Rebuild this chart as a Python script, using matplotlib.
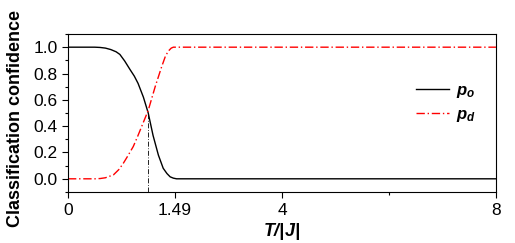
import matplotlib
matplotlib.use("Agg")
import matplotlib.pyplot as plt
from matplotlib.ticker import MultipleLocator, FixedLocator

plt.rcParams['font.family'] = ['Liberation Sans', 'DejaVu Sans']
plt.rcParams['mathtext.fontset'] = 'custom'
plt.rcParams['mathtext.rm'] = 'Liberation Sans'
plt.rcParams['mathtext.bf'] = 'Liberation Sans:bold'
plt.rcParams['mathtext.bfit'] = 'Liberation Sans:italic:bold'
plt.rcParams['mathtext.it'] = 'Liberation Sans:italic'

# p_o (ordered phase) confidence
T_o = [0, 0.3, 0.5, 0.6, 0.7, 0.8, 0.9, 0.97, 1.06, 1.16, 1.24, 1.31, 1.41,
       1.5, 1.59, 1.69, 1.78, 1.85, 1.91, 1.97, 2.03, 2.3, 3.0, 8.0]
p_o = [1.0, 1.0, 1.0, 0.998, 0.993, 0.982, 0.965, 0.945, 0.895, 0.83,
       0.78, 0.725, 0.62, 0.5, 0.33, 0.18, 0.08, 0.04, 0.015, 0.005, 0.0,
       0.0, 0.0, 0.0]

# p_d (disordered phase) confidence
T_d = [0, 0.5, 0.6, 0.7, 0.85, 0.95, 1.03, 1.12, 1.22, 1.3, 1.38, 1.5,
       1.63, 1.75, 1.82, 1.875, 1.93, 1.97, 2.2, 8.0]
p_d = [0.0, 0.0, 0.002, 0.008, 0.03, 0.07, 0.115, 0.175, 0.245, 0.32,
       0.40, 0.52, 0.70, 0.85, 0.93, 0.97, 0.993, 1.0, 1.0, 1.0]

T_c = 1.49
xtick_pos = [0, 2, 4, 8]
xtick_labels = ['0', '1.49', '4', '8']

fig = plt.figure(figsize=(5.15, 2.43), dpi=100)
ax = fig.add_axes([0.132, 0.21, 0.831, 0.65])

ax.plot(T_o, p_o, color='black', lw=1.0, label=r'$\mathbfit{p}_{\mathbfit{o}}$')
ax.plot(T_d, p_d, color='red', lw=1.0, linestyle=(0, (6, 2, 1, 2)),
        label=r'$\mathbfit{p}_{\mathbfit{d}}$')
ax.plot([T_c, T_c], [-0.1, 0.5], color='black', lw=0.6, linestyle=(0, (6, 2, 1, 2)))

ax.set_xlim(0, 8)
ax.set_ylim(-0.1, 1.1)
ax.xaxis.set_major_locator(FixedLocator(xtick_pos))
ax.set_xticklabels(xtick_labels)
ax.xaxis.set_minor_locator(FixedLocator([6]))
ax.yaxis.set_major_locator(MultipleLocator(0.2))
ax.yaxis.set_minor_locator(MultipleLocator(0.1))
ax.tick_params(which='major', direction='out', length=4, width=0.8, labelsize=12.5)
ax.tick_params(which='minor', direction='out', length=2.5, width=0.8)
ax.tick_params(axis='x', pad=4)

ax.set_ylabel('Classification confidence', fontsize=13, fontweight='bold')
ax.yaxis.set_label_coords(-0.102, 0.465)
ax.set_xlabel(r'$\mathbfit{T/|J|}$', fontsize=13, labelpad=2)

ax.legend(loc='center left', bbox_to_anchor=(0.777, 0.56), frameon=False,
          fontsize=12, handlelength=2.0, handletextpad=0.45, labelspacing=0.4)

fig.savefig('out.png', dpi=100)
